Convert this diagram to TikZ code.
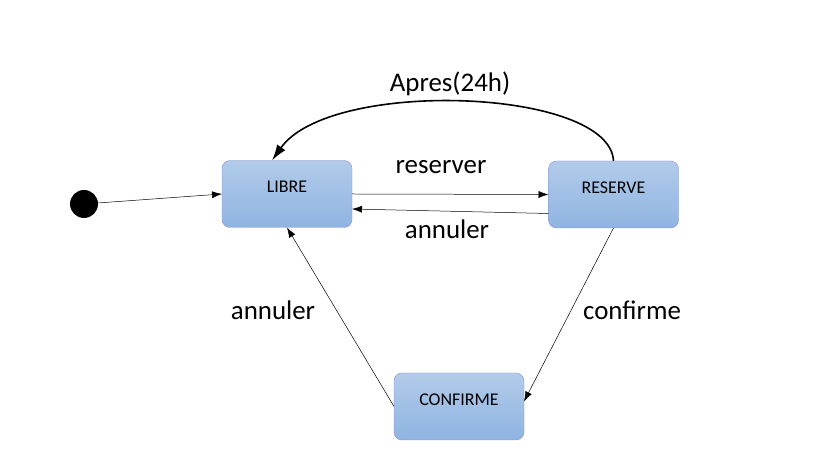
\documentclass[tikz,border=0pt]{standalone}
\usepackage{fontspec}
\setmainfont{Carlito}
\usepackage{tikz}
\usetikzlibrary{arrows.meta,positioning}

\begin{document}
\begin{tikzpicture}[x=1bp, y=1bp,
    state/.style = {rectangle, rounded corners=8bp, draw=blue!45!gray!60,% styles of state boxes
                    top color={rgb,255:red,178;green,203;blue,234},
                    bottom color={rgb,255:red,143;green,180;blue,225},
                    minimum width=130bp, minimum height=67bp, text depth=14bp,
                    outer sep=0pt, font=\fontsize{18}{20}\selectfont},
    lbl/.style  = {font=\fontsize{27}{31}\selectfont},
    trans/.style = {-{Latex[length=10bp,width=7bp]}, line width=0.5pt},
                        ]
\useasboundingbox (0,0) rectangle (821,458);
\node[circle, fill=black, minimum size=28bp, inner sep=0pt] (init) at (84,254) {};
\node[state] (LIBRE)    at (287,264)   {LIBRE};
\node[state] (RESERVE)  at (613.5,263.5) {RESERVE};
\node[state] (CONFIRME) at (459,51.5)  {CONFIRME};
% transitions
\draw[trans] (init) -- (LIBRE.west);
\draw[trans] (LIBRE.east) -- (RESERVE.west);
\draw[trans] ([yshift=-19bp]RESERVE.west) -- ([yshift=-15bp]LIBRE.east);
\draw[trans] (RESERVE.south) -- ([yshift=5bp]CONFIRME.east);
\draw[trans] (CONFIRME.west) -- (LIBRE.south);
\draw[-{Latex[length=16bp,width=10bp]}, line width=1.6pt] (RESERVE.north)
    .. controls (610,370) and (330,380) .. ([xshift=-15bp]LIBRE.north);
% labels
\node[lbl] (apres)   at (450,374) {Apres(24h)};
\node[lbl] (res)     at (441,291) {reserver};
\node[lbl] (ann1)    at (447,229) {annuler};
\node[lbl] (ann2)    at (273,148) {annuler};
\node[lbl] (conf)    at (632,148) {confirme};
\end{tikzpicture}
\end{document}
